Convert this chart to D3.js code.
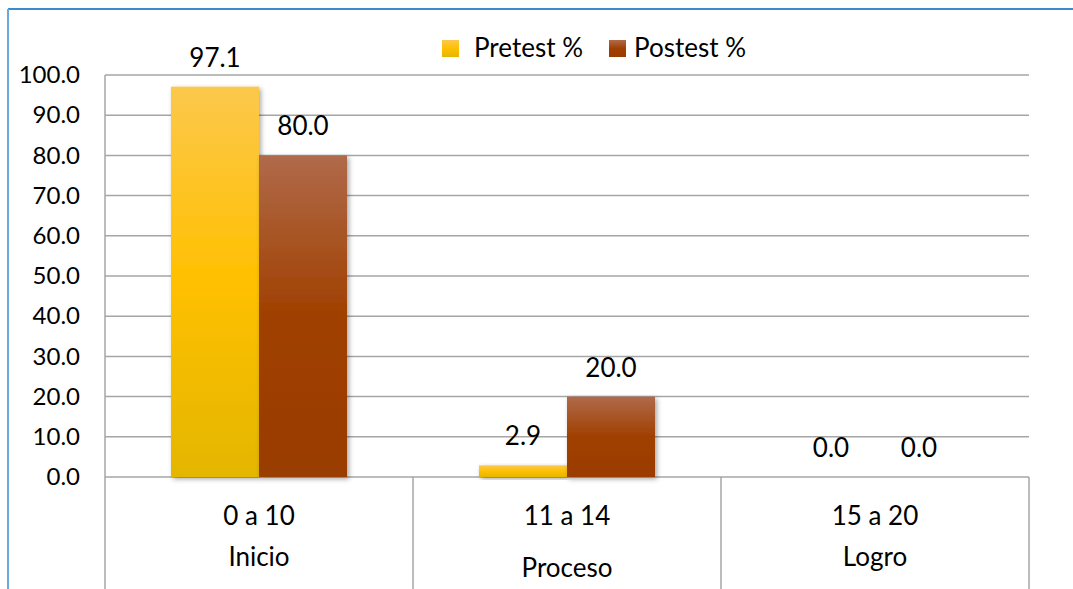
<!DOCTYPE html>
<html>
<head>
<meta charset="utf-8">
<script src="https://cdn.jsdelivr.net/npm/d3@7/dist/d3.min.js"></script>
<style>
  html, body { margin: 0; padding: 0; background: #fff; }
  svg { display: block; font-family: Lato, "Open Sans", sans-serif; }
</style>
</head>
<body>
<svg id="chart" width="1073" height="589"></svg>
<script>
// data
var categories = ["0 a 10", "11 a 14", "15 a 20"],
    levels = ["Inicio", "Proceso", "Logro"],
    series = ["Pretest %", "Postest %"],
    pretest = [97.1, 2.9, 0.0],
    postest = [80.0, 20.0, 0.0],
    yTicks = [0, 10, 20, 30, 40, 50, 60, 70, 80, 90, 100];

var width = 1073, height = 589,
    margin = { top: 75, right: 44, bottom: 112, left: 105 };

var svg = d3.select("#chart");
var defs = svg.append("defs");

var grads = [
    { id: "g-pre", stops: ["#fcc84c", "#ffc000", "#e4b600"] },
    { id: "g-post", stops: ["#b06a4a", "#a04000", "#9a3c00"] }
];
grads.forEach(function (g) {
    var lg = defs.append("linearGradient")
        .attr("id", g.id)
        .attr("x1", 0).attr("y1", 0).attr("x2", 0).attr("y2", 1);
    lg.append("stop").attr("offset", "0%").attr("stop-color", g.stops[0]);
    lg.append("stop").attr("offset", "50%").attr("stop-color", g.stops[1]);
    lg.append("stop").attr("offset", "100%").attr("stop-color", g.stops[2]);
});

defs.append("filter")
    .attr("id", "shadow")
    .attr("x", "-20%").attr("y", "-20%").attr("width", "140%").attr("height", "140%")
    .append("feDropShadow")
    .attr("dx", 2).attr("dy", 2)
    .attr("stdDeviation", 2.5)
    .attr("flood-color", "#000")
    .attr("flood-opacity", 0.35);

// outer frame (only top and left edges are visible)
svg.append("line")
    .attr("x1", 8).attr("x2", width).attr("y1", 9).attr("y2", 9)
    .attr("stroke", "#3d8bcf").attr("stroke-width", 2);
svg.append("line")
    .attr("x1", 8).attr("x2", 8).attr("y1", 9).attr("y2", height)
    .attr("stroke", "#69a9dd").attr("stroke-width", 2);

var x0 = d3.scaleBand()
    .domain(categories)
    .range([margin.left, width - margin.right]);

var x1 = d3.scaleBand()
    .domain(series)
    .range([0, x0.bandwidth()])
    .paddingInner(0)
    .paddingOuter(0.75);

var y = d3.scaleLinear()
    .domain([0, 100])
    .range([height - margin.bottom, margin.top]);

// gridlines
svg.append("g")
    .selectAll("line")
    .data(yTicks)
    .join("line")
    .attr("x1", margin.left).attr("x2", width - margin.right)
    .attr("y1", function (d) { return y(d); })
    .attr("y2", function (d) { return y(d); })
    .attr("stroke", "#a6a6a6").attr("stroke-width", 1.5);

// category dividers
var dividers = [margin.left].concat(categories.map(function (c) { return x0(c) + x0.bandwidth(); }));
svg.append("g")
    .selectAll("line")
    .data(dividers)
    .join("line")
    .attr("x1", function (d) { return d; }).attr("x2", function (d) { return d; })
    .attr("y1", function (d, i) { return i === 0 ? margin.top : y(0); })
    .attr("y2", height)
    .attr("stroke", "#a6a6a6").attr("stroke-width", 1.5);

// y axis labels
var yAxis = d3.axisLeft(y)
    .tickValues(yTicks)
    .tickSize(0)
    .tickPadding(25)
    .tickFormat(d3.format(".1f"));
var gy = svg.append("g")
    .attr("transform", "translate(" + margin.left + ",0)")
    .call(yAxis);
gy.select(".domain").remove();
gy.selectAll("text")
    .attr("fill", "#000")
    .style("font-size", "24px")
    .style("font-family", "Lato, sans-serif");

// bars
var rows = categories.map(function (c, i) {
    return { cat: c, values: [
        { key: series[0], value: pretest[i], fill: "url(#g-pre)" },
        { key: series[1], value: postest[i], fill: "url(#g-post)" }
    ] };
});

var groups = svg.append("g")
    .selectAll("g")
    .data(rows)
    .join("g")
    .attr("transform", function (d) { return "translate(" + x0(d.cat) + ",0)"; });

groups.selectAll("rect")
    .data(function (d) { return d.values.filter(function (v) { return v.value > 0; }); })
    .join("rect")
    .attr("x", function (d) { return x1(d.key); })
    .attr("width", x1.bandwidth())
    .attr("y", function (d) { return y(d.value); })
    .attr("height", function (d) { return y(0) - y(d.value); })
    .attr("fill", function (d) { return d.fill; })
    .attr("filter", "url(#shadow)");

groups.selectAll("text")
    .data(function (d) { return d.values; })
    .join("text")
    .attr("x", function (d) { return x1(d.key) + x1.bandwidth() / 2; })
    .attr("y", function (d) { return y(d.value) - 20; })
    .attr("text-anchor", "middle")
    .attr("fill", "#000")
    .style("font-size", "26px")
    .text(function (d) { return d3.format(".1f")(d.value); });

// category labels
var levelY = [566, 577, 566];
var gx = svg.append("g");
gx.selectAll("text.cat")
    .data(categories)
    .join("text")
    .attr("class", "cat")
    .attr("x", function (d) { return x0(d) + x0.bandwidth() / 2; })
    .attr("y", 525)
    .attr("text-anchor", "middle")
    .style("font-size", "26px")
    .text(function (d) { return d; });
gx.selectAll("text.lvl")
    .data(levels)
    .join("text")
    .attr("class", "lvl")
    .attr("x", function (d, i) { return x0(categories[i]) + x0.bandwidth() / 2; })
    .attr("y", function (d, i) { return levelY[i]; })
    .attr("text-anchor", "middle")
    .style("font-size", "26px")
    .text(function (d) { return d; });

// legend
var legendX = [442, 609],
    legendTextX = [474, 634];
var legend = svg.append("g")
    .selectAll("g")
    .data(series)
    .join("g");
legend.append("rect")
    .attr("x", function (d, i) { return legendX[i]; })
    .attr("y", 40)
    .attr("width", 17).attr("height", 17)
    .attr("fill", function (d, i) { return "url(#" + grads[i].id + ")"; });
legend.append("text")
    .attr("x", function (d, i) { return legendTextX[i]; })
    .attr("y", 57)
    .style("font-size", "26px")
    .text(function (d) { return d; });
</script>
</body>
</html>
